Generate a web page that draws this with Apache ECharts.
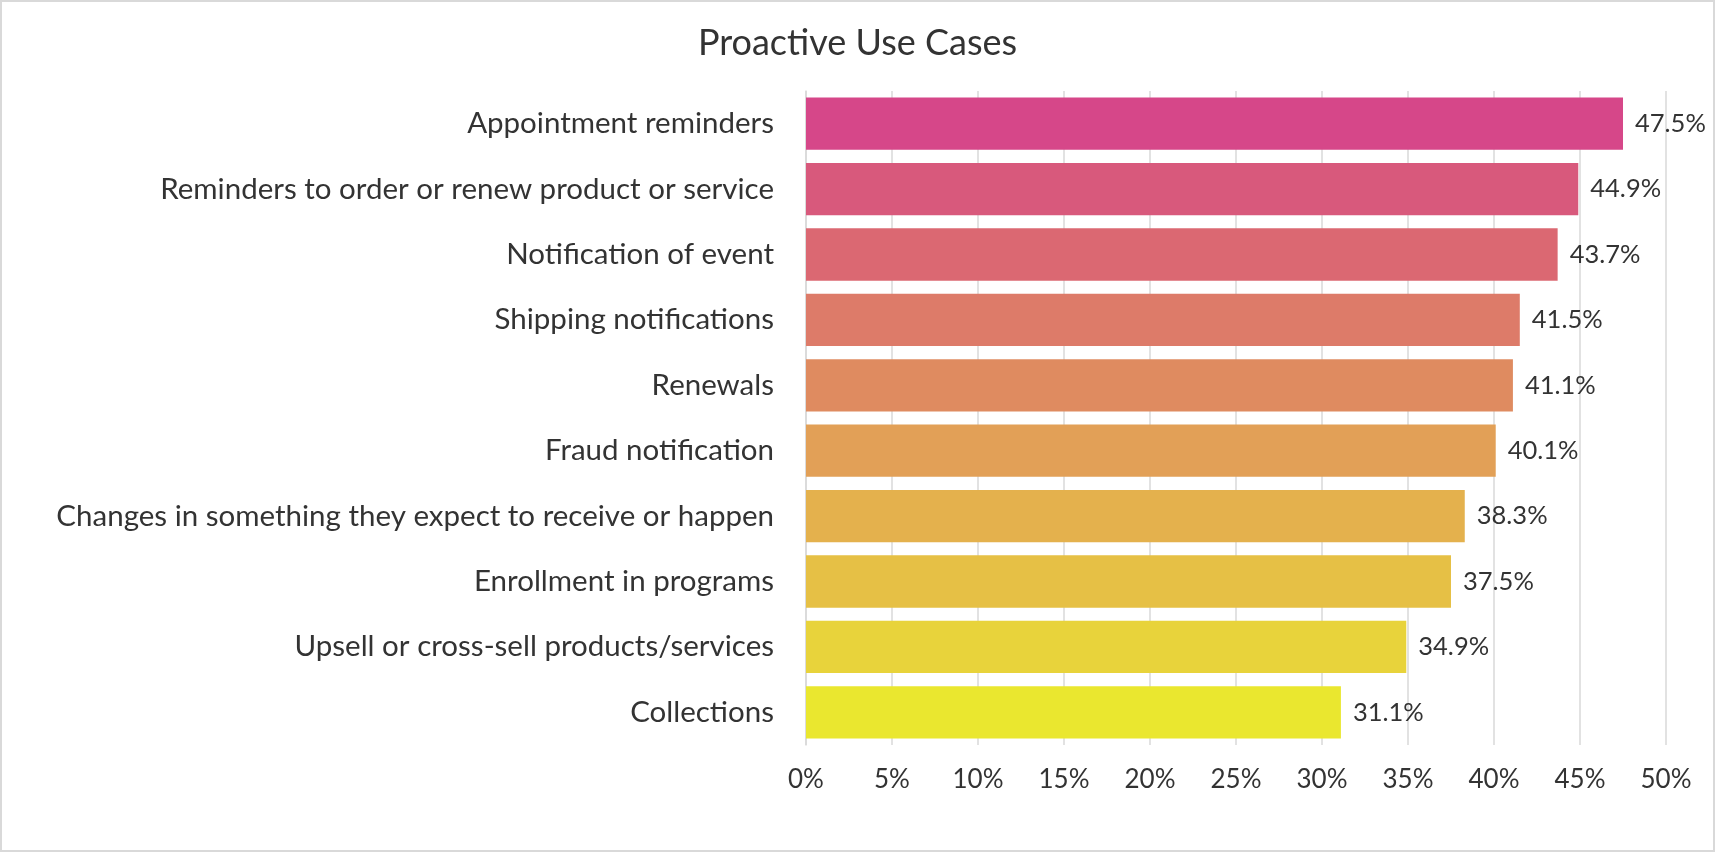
<!DOCTYPE html>
<html>
<head>
<meta charset="utf-8">
<script src="https://cdn.jsdelivr.net/npm/echarts@6/dist/echarts.min.js"></script>
<style>
  html, body { margin: 0; padding: 0; background: #fff; }
  #wrap { position: relative; width: 1715px; height: 852px; }
  #chart { width: 1715px; height: 852px; }
  #border { position: absolute; left: 0; top: 0; width: 1715px; height: 852px; box-sizing: border-box; border: 2px solid #d9d9d9; pointer-events: none; }
</style>
</head>
<body>
<div id="wrap"><div id="chart"></div><div id="border"></div></div>
<script>
const title = 'Proactive Use Cases';
const categories = [
  'Appointment reminders',
  'Reminders to order or renew product or service',
  'Notification of event',
  'Shipping notifications',
  'Renewals',
  'Fraud notification',
  'Changes in something they expect to receive or happen',
  'Enrollment in programs',
  'Upsell or cross-sell products/services',
  'Collections'
];
const values = [47.5, 44.9, 43.7, 41.5, 41.1, 40.1, 38.3, 37.5, 34.9, 31.1];
const barColors = ['#D64789', '#D8597C', '#DB6872', '#DD7B69', '#DF8B60', '#E2A057', '#E4B14D', '#E6C045', '#E8D33B', '#EAE72F'];
const xTicks = [0, 5, 10, 15, 20, 25, 30, 35, 40, 45, 50];

const textColor = '#333333';
const font = 'Lato';

const chart = echarts.init(document.getElementById('chart'));
chart.setOption({
  animation: false,
  title: {
    text: title,
    left: 'center',
    top: 20,
    textStyle: { fontFamily: font, fontSize: 36, fontWeight: 'normal', color: textColor }
  },
  grid: { left: 806, right: 49, top: 91, bottom: 107, containLabel: false },
  xAxis: {
    type: 'value',
    min: xTicks[0],
    max: xTicks[xTicks.length - 1],
    interval: xTicks[1] - xTicks[0],
    axisLine: { show: false },
    axisTick: { show: false },
    splitLine: { show: true, lineStyle: { color: '#d9d9d9', width: 1.5 } },
    axisLabel: {
      margin: 22,
      fontFamily: font, fontSize: 26, color: textColor,
      formatter: v => v + '%'
    }
  },
  yAxis: {
    type: 'category',
    data: categories,
    inverse: true,
    axisLine: { show: true, lineStyle: { color: '#d9d9d9', width: 1.5 } },
    axisTick: { show: false },
    axisLabel: { margin: 32, fontFamily: font, fontSize: 29.5, color: textColor }
  },
  series: [{
    type: 'bar',
    barCategoryGap: '20%',
    data: values.map((v, i) => ({ value: v, itemStyle: { color: barColors[i] } })),
    label: {
      show: true,
      position: 'right',
      distance: 12,
      fontFamily: font, fontSize: 25.5, color: textColor,
      formatter: p => p.value.toFixed(1) + '%'
    }
  }]
});
</script>
</body>
</html>
